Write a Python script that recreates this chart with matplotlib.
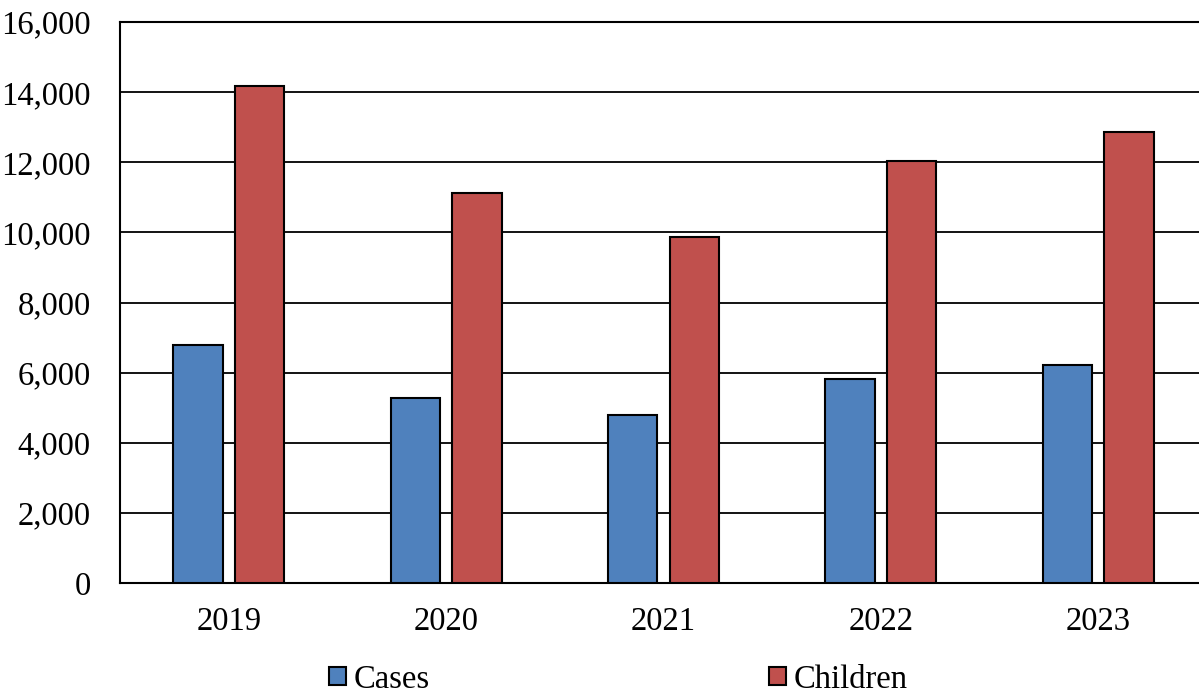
import matplotlib
matplotlib.use("Agg")
import matplotlib.pyplot as plt
import numpy as np
from matplotlib.ticker import FuncFormatter

years = ["2019", "2020", "2021", "2022", "2023"]
cases = [6800, 5290, 4800, 5830, 6220]
children = [14180, 11130, 9870, 12040, 12860]

plt.rcParams['font.family'] = ['Liberation Serif', 'DejaVu Serif']

fig = plt.figure(figsize=(11.99, 6.96), dpi=100)
ax = fig.add_axes([120/1199, 113/696, 1087/1199, 561/696])

x = np.arange(len(years))
w = 0.227
off = 0.142
ax.bar(x - off, cases, w, color="#4F81BD", edgecolor="black", linewidth=1.5, label="Cases", zorder=3)
ax.bar(x + off, children, w, color="#C0504D", edgecolor="black", linewidth=1.5, label="Children", zorder=3)

ax.set_xlim(-0.5, 4.5)
ax.set_ylim(0, 16000)
ax.set_yticks(np.arange(0, 16001, 2000))
ax.yaxis.set_major_formatter(FuncFormatter(lambda v, p: f"{int(v):,}"))
ax.set_xticks(x)
ax.set_xticklabels(years)
ax.grid(axis="y", color="black", linewidth=1.3, zorder=0)
ax.tick_params(axis="both", length=0, labelsize=23.5)
ax.tick_params(axis="y", pad=21)
ax.tick_params(axis="x", pad=17)
for s in ax.spines.values():
    s.set_color("black")
    s.set_linewidth(1.5)

fig.legend(loc="center", bbox_to_anchor=(0.516, 0.024), ncol=2, frameon=False,
           fontsize=23.5, handlelength=0.5, handleheight=0.5, handletextpad=0.25,
           columnspacing=10.4, borderpad=0)

fig.savefig("out.png", dpi=100)
